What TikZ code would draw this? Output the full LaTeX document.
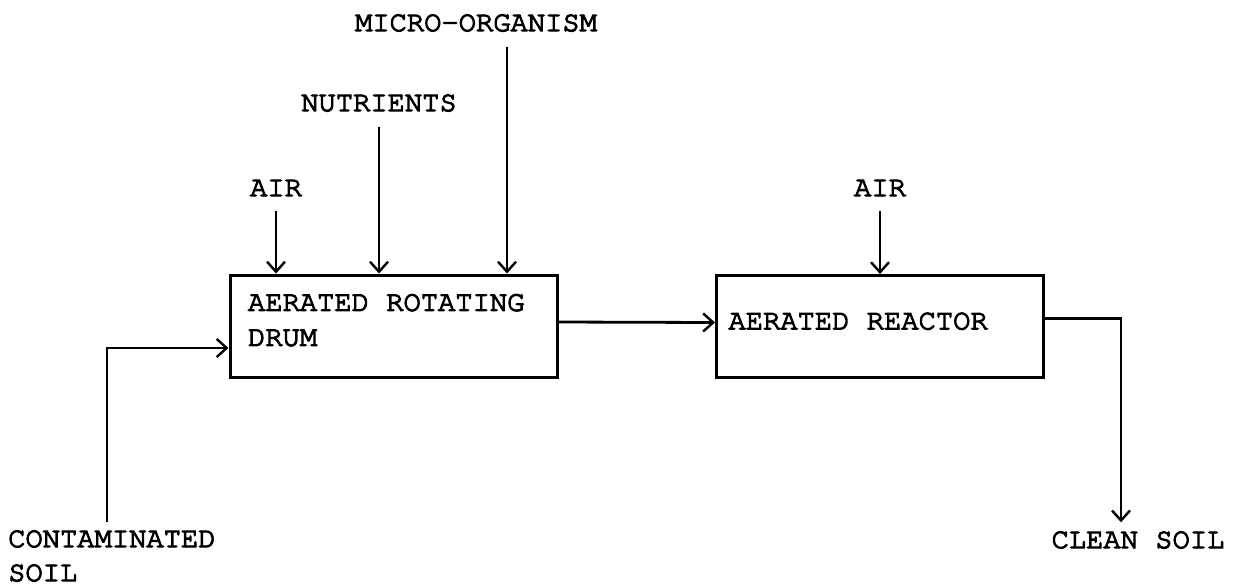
\documentclass[tikz,border=0pt]{standalone}
\usepackage{fontspec}
\setmonofont[FakeBold=4]{TeX Gyre Cursor}
\usetikzlibrary{arrows.meta}
\tikzset{
	unit/.style={draw, line width=3pt, minimum width=327pt, minimum height=102pt,
		text width=291pt, text depth=11pt, align=flush left, font=\ttfamily\fontsize{28.8}{35}\selectfont},
	tag/.style={inner sep=0pt, align=left, font=\ttfamily\fontsize{28.8}{34}\selectfont},
	flow/.style={line width=2.8pt, -{Straight Barb[length=10pt,width=18pt,line width=2.4pt]}},
}
\begin{document}
\begin{tikzpicture}[x=1pt,y=-1pt]
		\useasboundingbox (0,0) rectangle (1233,587);
		% units
		\node[unit, text depth=47pt] (drum) at (393.5,326) {AERATED ROTATING\\DRUM};
		\node[unit, text width=303pt] (reactor) at (880,326.5) {AERATED REACTOR};
		% feeds and products
		\node[tag] (micro) at (476,23) {MICRO-ORGANISM};
		\node[tag] (nutr) at (379,103) {NUTRIENTS};
		\node[tag] (air1) at (276,188) {AIR};
		\node[tag] (air2) at (880,188) {AIR};
		\node[tag, anchor=west] (soil) at (8,556) {CONTAMINATED\\SOIL};
		\node[tag] (clean) at (1138,540) {CLEAN SOIL};
		\coordinate (feed) at (107,522);
		% streams
		\draw[flow, shorten <=15pt] ([xshift=31pt]micro.south) -- ([xshift=31pt]micro.south |- drum.north);
		\draw[flow, shorten <=15pt] (nutr.south) -- (nutr.south |- drum.north);
		\draw[flow, shorten <=15pt] (air1.south) -- (air1.south |- drum.north);
		\draw[flow, shorten <=15pt] (air2.south) -- (reactor.north);
		\draw[flow] (feed) |- ([yshift=-22pt]drum.west);
		\draw[flow] ([yshift=4pt]drum.east) -- ([yshift=4pt]reactor.west);
		\draw[flow, shorten >=9pt] ([yshift=8pt]reactor.east) -| ([xshift=-17pt]clean.north);
	\end{tikzpicture}
\end{document}
